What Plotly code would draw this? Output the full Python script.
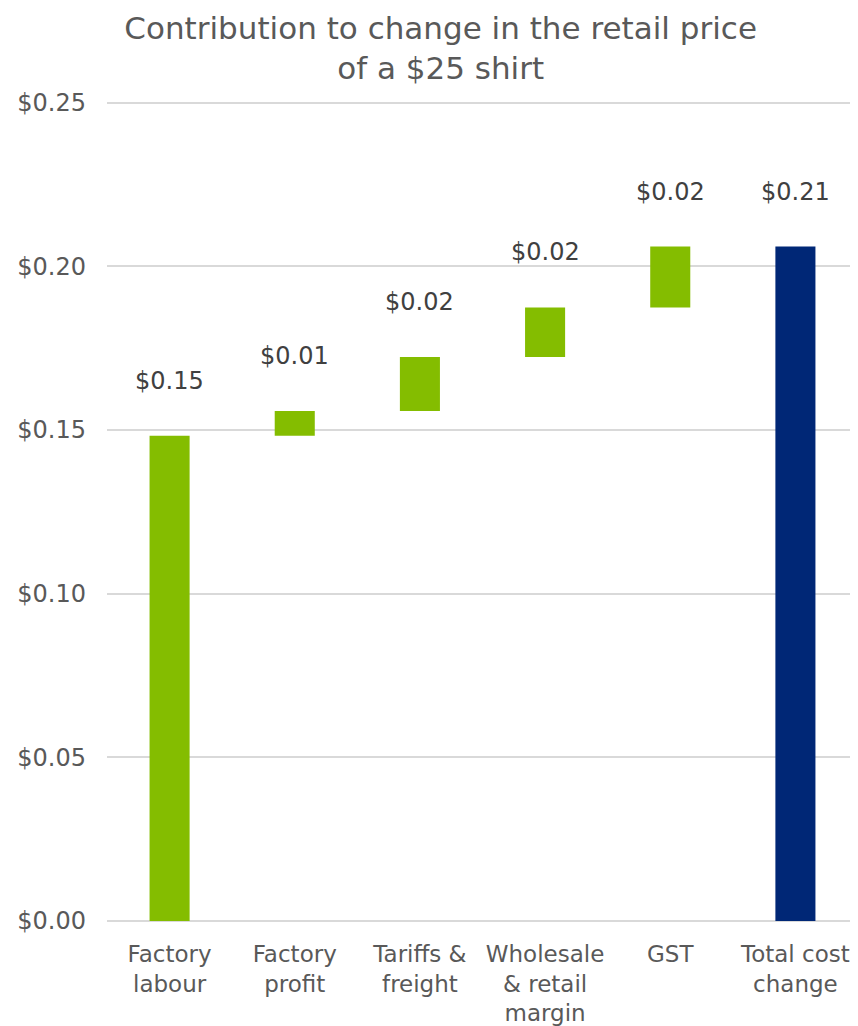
import plotly.graph_objects as go

categories = ["Factory<br>labour", "Factory<br>profit", "Tariffs &<br>freight",
              "Wholesale<br>& retail<br>margin", "GST", "Total cost<br>change"]
contributions = [0.1482, 0.0076, 0.0165, 0.0151, 0.0186]
measures = ["relative"] * len(contributions) + ["total"]

total = sum(contributions)
values = contributions + [0]
tops = []
run = 0
for v in contributions:
    run += v
    tops.append(run)
tops.append(total)
labels = [f"${v:.2f}" for v in contributions] + [f"${total:.2f}"]

GREEN = "#84BD00"
NAVY = "#002776"
GREY = "#595959"
FONT = "Verdana, DejaVu Sans, sans-serif"

fig = go.Figure()
fig.add_trace(go.Waterfall(
    x=categories,
    y=values,
    measure=measures,
    increasing=dict(marker=dict(color=GREEN)),
    decreasing=dict(marker=dict(color=GREEN)),
    totals=dict(marker=dict(color=NAVY)),
    connector=dict(visible=False),
    textinfo="none",
    hoverinfo="x+y",
))

for c, t, lab in zip(categories, tops, labels):
    fig.add_annotation(x=c, y=t, text=lab, showarrow=False, yanchor="middle",
                       yshift=55, font=dict(size=24, color="#404040", family=FONT))

fig.update_layout(
    width=850, height=1018,
    margin=dict(l=99, r=0, t=88, b=97),
    paper_bgcolor="white", plot_bgcolor="white",
    font=dict(family=FONT, color=GREY, size=24),
    title=dict(text="Contribution to change in the retail price<br>of a $25 shirt",
               x=0.509, xanchor="center", xref="container", y=0.970, yanchor="top",
               yref="container", font=dict(size=31, color=GREY, family=FONT)),
    waterfallgap=0.68,
    showlegend=False,
)
fig.update_yaxes(range=[0, 0.252], tickvals=[0, 0.05, 0.10, 0.15, 0.20, 0.25],
                 tickformat="$.2f",
                 showgrid=True, gridcolor="#D9D9D9", gridwidth=1.5,
                 zeroline=True, zerolinecolor="#D9D9D9", zerolinewidth=1.5,
                 showline=False, ticks="", ticklabelstandoff=20,
                 tickfont=dict(size=24, color=GREY, family=FONT))
fig.update_xaxes(showgrid=False, showline=False, ticks="outside", ticklen=12,
                 tickcolor="rgba(0,0,0,0)",
                 tickfont=dict(size=23, color=GREY, family=FONT))

fig.write_html("out.html")
